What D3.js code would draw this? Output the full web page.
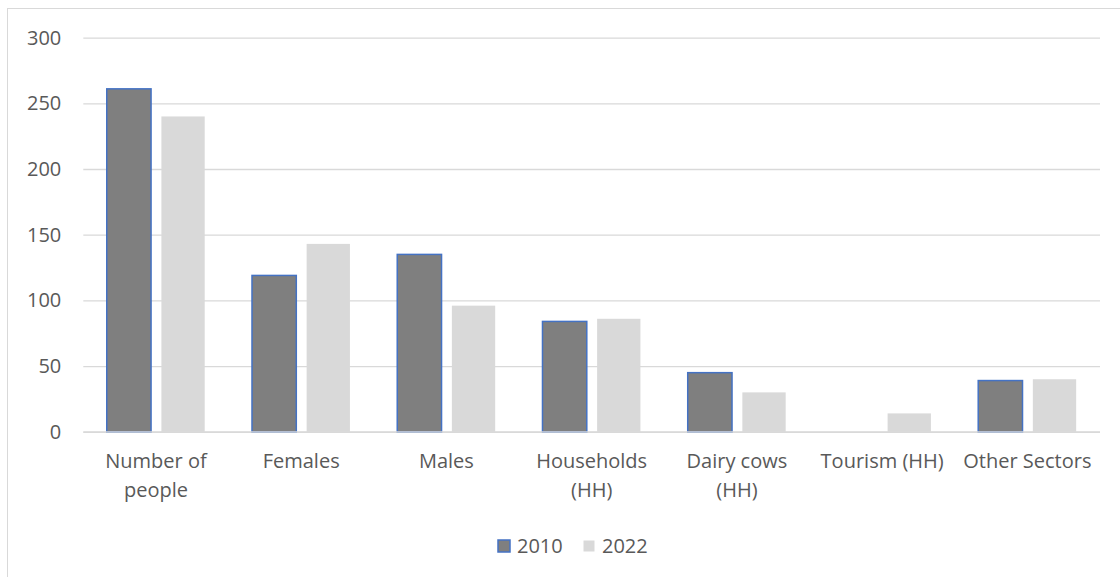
<!DOCTYPE html>
<html>
<head>
<meta charset="utf-8">
<script src="https://cdn.jsdelivr.net/npm/d3@7"></script>
<style>
  body { margin: 0; background: #fff; }
  svg { display: block; font-family: "Open Sans", sans-serif; }
</style>
</head>
<body>
<script>
var categories = [
    ["Number of", "people"],
    ["Females"],
    ["Males"],
    ["Households", "(HH)"],
    ["Dairy cows", "(HH)"],
    ["Tourism (HH)"],
    ["Other Sectors"]
];
var series = ["2010", "2022"];
var values2010 = [261, 119, 135, 84, 45, null, 39];
var values2022 = [240, 143, 96, 86, 30, 14, 40];
var yTicks = [0, 50, 100, 150, 200, 250, 300];

var width = 1120;
var height = 577;
var margin = ({ top: 37.6, right: 20, bottom: 145.2, left: 83.3 });

var colors = { "2010": "#7f7f7f", "2022": "#d9d9d9" };
var stroke2010 = "#4472C4";

let svg = d3.select('body').append('svg');
svg.attr('width', width)
    .attr('height', height);

// chart area border (only left/top show in the frame)
svg.append("rect")
    .attr("x", 7.5).attr("y", 8.5)
    .attr("width", 1130).attr("height", 600)
    .attr("fill", "none")
    .attr("stroke", "#d9d9d9");

var x0 = d3.scaleBand()
    .domain(d3.range(categories.length))
    .range([margin.left, width - margin.right])
    .padding(0);

var x1 = d3.scaleBand()
    .domain(series)
    .range([22.7, 122.4])
    .paddingInner(0.2);

var y = d3.scaleLinear()
    .domain([0, 300])
    .range([height - margin.bottom, margin.top]);

// gridlines + y labels
var yAxis = g => g
    .attr("transform", `translate(${margin.left},0)`)
    .call(d3.axisLeft(y)
        .tickValues(yTicks)
        .tickSize(-(width - margin.right - margin.left))
        .tickPadding(22))
    .call(g => g.select(".domain").remove())
    .call(g => g.selectAll(".tick line").attr("stroke", "#d9d9d9").attr("stroke-width", 1.3))
    .call(g => g.selectAll(".tick text")
        .attr("fill", "#595959")
        .attr("font-size", 20)
        .attr("font-family", "Open Sans, sans-serif"));

svg.append("g").call(yAxis);

var rows = categories.map((c, i) => ({ i: i, v2010: values2010[i], v2022: values2022[i] }));

var groups = svg.append("g")
    .selectAll("g")
    .data(rows)
    .enter()
    .append("g")
    .attr("transform", d => `translate(${x0(d.i)},0)`);

groups.filter(d => d.v2022 != null)
    .append("rect")
    .attr("x", x1("2022"))
    .attr("y", d => y(d.v2022))
    .attr("width", x1.bandwidth() - 1)
    .attr("height", d => y(0) - y(d.v2022))
    .attr("fill", colors["2022"]);

groups.filter(d => d.v2010 != null)
    .append("rect")
    .attr("x", x1("2010") + 0.75)
    .attr("y", d => y(d.v2010))
    .attr("width", x1.bandwidth())
    .attr("height", d => y(0) - y(d.v2010))
    .attr("fill", colors["2010"])
    .attr("stroke", stroke2010)
    .attr("stroke-width", 1.5);

// category axis line
svg.append("line")
    .attr("x1", margin.left).attr("x2", width - margin.right)
    .attr("y1", y(0)).attr("y2", y(0))
    .attr("stroke", "#d9d9d9")
    .attr("stroke-width", 1.3);

// category labels
var labels = svg.append("g")
    .selectAll("text")
    .data(categories)
    .enter()
    .append("text")
    .attr("text-anchor", "middle")
    .attr("fill", "#595959")
    .attr("font-size", 20)
    .attr("transform", (d, i) => `translate(${x0(i) + x0.bandwidth() / 2},468)`);

labels.selectAll("tspan")
    .data(d => d)
    .enter()
    .append("tspan")
    .attr("x", 0)
    .attr("y", (d, i) => i * 28.5)
    .text(d => d);

// legend
var legend = svg.append("g");
legend.append("rect")
    .attr("x", 498).attr("y", 540)
    .attr("width", 12).attr("height", 12)
    .attr("fill", colors["2010"])
    .attr("stroke", stroke2010)
    .attr("stroke-width", 1.5);
legend.append("text")
    .attr("x", 517).attr("y", 553)
    .attr("fill", "#595959").attr("font-size", 20)
    .text(series[0]);
legend.append("rect")
    .attr("x", 583.5).attr("y", 540.5)
    .attr("width", 11).attr("height", 11)
    .attr("fill", colors["2022"]);
legend.append("text")
    .attr("x", 602).attr("y", 553)
    .attr("fill", "#595959").attr("font-size", 20)
    .text(series[1]);
</script>
</body>
</html>
